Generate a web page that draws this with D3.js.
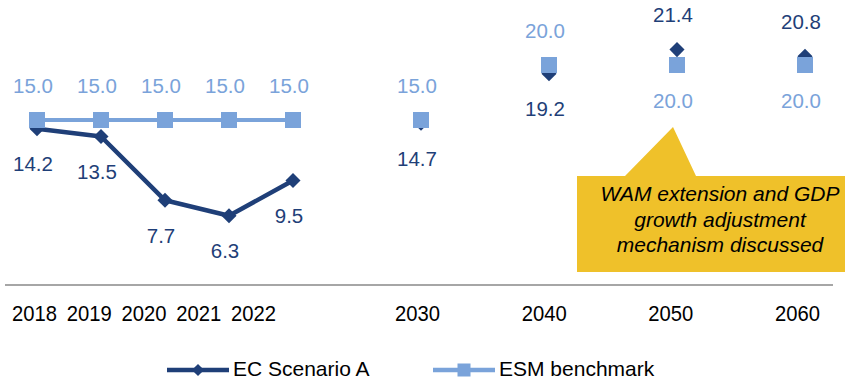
<!DOCTYPE html>
<html>
<head>
<meta charset="utf-8">
<script src="https://cdn.jsdelivr.net/npm/d3@7"></script>
<style>
  html, body { margin: 0; padding: 0; background: #fff; }
  svg { display: block; font-family: "Liberation Sans", Arial, sans-serif; }
</style>
</head>
<body>
<svg id="chart" width="845" height="380"></svg>
<script>
// Category slots: annual years, then decade years with an empty slot between each
const slots = ["2018", "2019", "2020", "2021", "2022", "gap1", "2030", "gap2", "2040", "gap3", "2050", "gap4", "2060"];
const years = ["2018", "2019", "2020", "2021", "2022", "2030", "2040", "2050", "2060"];
const ecScenarioA = [14.2, 13.5, 7.7, 6.3, 9.5, 14.7, 19.2, 21.4, 20.8];
const esmBenchmark = [15.0, 15.0, 15.0, 15.0, 15.0, 15.0, 20.0, 20.0, 20.0];
const joinedYears = ["2018", "2019", "2020", "2021", "2022"];   // years joined by a line
const seriesNames = ["EC Scenario A", "ESM benchmark"];
const calloutLines = ["WAM extension and GDP", "growth adjustment", "mechanism discussed"];

const EC_COLOR = "#1F3F78";
const ESM_COLOR = "#7AA3DA";
const CALLOUT = "#EFC12A";

const svg = d3.select("#chart");

const x = d3.scalePoint().domain(slots).range([5, 837]).padding(0.5);
const y = d3.scaleLinear().domain([0, 25]).range([285, 10]);

// Year labels sit in a tighter run for the annual years
const xLabel = d3.scaleLinear()
  .domain([2018, 2022, 2030, 2060])
  .range([x("2018") - 3, x("2022") - 40, x("2030") - 4, x("2060") - 8]);

const ec = years.map((yr, i) => ({ yr, v: ecScenarioA[i], other: esmBenchmark[i] }));
const esm = years.map((yr, i) => ({ yr, v: esmBenchmark[i], other: ecScenarioA[i] }));

// Baseline
svg.append("line")
  .attr("x1", 5).attr("x2", 833)
  .attr("y1", y(0)).attr("y2", y(0))
  .attr("stroke", "#A6A6A6").attr("stroke-width", 2);

// Year axis labels (slightly condensed)
const axis = svg.append("g")
  .attr("transform", `translate(0,${y(0)})`)
  .call(d3.axisBottom(xLabel)
    .tickValues(years.map(Number))
    .tickFormat(d3.format("d"))
    .tickSize(0)
    .tickPadding(20));
axis.select(".domain").remove();
axis.selectAll("text")
  .attr("font-size", 22)
  .attr("transform", "scale(0.92,1)")
  .attr("font-family", "Liberation Sans, Arial, sans-serif")
  .attr("fill", "#000");

// Callout box with pointer
const bx0 = 577, bx1 = 846, by0 = 176, by1 = 272;
svg.append("path")
  .attr("d", `M${bx0},${by0} L625,${by0} L${x("2050") - 4},127 L696,${by0} L${bx1},${by0} L${bx1},${by1} L${bx0},${by1} Z`)
  .attr("fill", CALLOUT);
svg.append("text")
  .attr("x", 720).attr("y", 201)
  .attr("text-anchor", "middle")
  .attr("font-size", 21)
  .attr("font-style", "italic")
  .attr("fill", "#000")
  .selectAll("tspan")
  .data(calloutLines)
  .join("tspan")
  .attr("x", 720)
  .attr("dy", (d, i) => i === 0 ? 0 : 25.5)
  .text(d => d);

const line = d3.line().x(d => x(d.yr)).y(d => y(d.v));
const diamond = d3.symbol().type(d3.symbolDiamond2).size(145);

// EC Scenario A
svg.append("path")
  .datum(ec.filter(d => joinedYears.includes(d.yr)))
  .attr("d", line)
  .attr("fill", "none")
  .attr("stroke", EC_COLOR)
  .attr("stroke-width", 4.5)
  .attr("stroke-linejoin", "round");
svg.append("g").selectAll("path")
  .data(ec)
  .join("path")
  .attr("transform", d => `translate(${x(d.yr)},${y(d.v)})`)
  .attr("d", diamond)
  .attr("fill", EC_COLOR);

// ESM benchmark
svg.append("path")
  .datum(esm.filter(d => joinedYears.includes(d.yr)))
  .attr("d", line)
  .attr("fill", "none")
  .attr("stroke", ESM_COLOR)
  .attr("stroke-width", 4);
svg.append("g").selectAll("rect")
  .data(esm)
  .join("rect")
  .attr("x", d => x(d.yr) - 8)
  .attr("y", d => y(d.v) - 8)
  .attr("width", 16).attr("height", 16)
  .attr("fill", ESM_COLOR);

// Value labels: above the marker when it is the higher of the pair, below otherwise
function labels(data, color) {
  svg.append("g").selectAll("text")
    .data(data)
    .join("text")
    .attr("x", d => x(d.yr) - 4)
    .attr("y", d => y(d.v) + (d.v > d.other || (d.v === d.other && color === ESM_COLOR) ? -35 : 35) + 7.5)
    .attr("text-anchor", "middle")
    .attr("font-size", 20.5)
    .attr("fill", color)
    .text(d => d3.format(".1f")(d.v));
}
labels(ec, EC_COLOR);
labels(esm, ESM_COLOR);

// Legend
const legend = svg.append("g").attr("transform", "translate(0,370)");
const keys = [
  { name: seriesNames[0], color: EC_COLOR, x0: 167, marker: "diamond" },
  { name: seriesNames[1], color: ESM_COLOR, x0: 433, marker: "square" }
];
keys.forEach(k => {
  legend.append("line")
    .attr("x1", k.x0).attr("x2", k.x0 + 62)
    .attr("y1", 0).attr("y2", 0)
    .attr("stroke", k.color).attr("stroke-width", 4.5);
  if (k.marker === "diamond") {
    legend.append("path")
      .attr("transform", `translate(${k.x0 + 31},0)`)
      .attr("d", d3.symbol().type(d3.symbolDiamond2).size(95))
      .attr("fill", k.color);
  } else {
    legend.append("rect")
      .attr("x", k.x0 + 31 - 6.5).attr("y", -6.5)
      .attr("width", 13).attr("height", 13)
      .attr("fill", k.color);
  }
  legend.append("text")
    .attr("x", k.x0 + 66).attr("y", 5.5)
    .attr("font-size", 21)
    .attr("fill", "#000")
    .text(k.name);
});
</script>
</body>
</html>
